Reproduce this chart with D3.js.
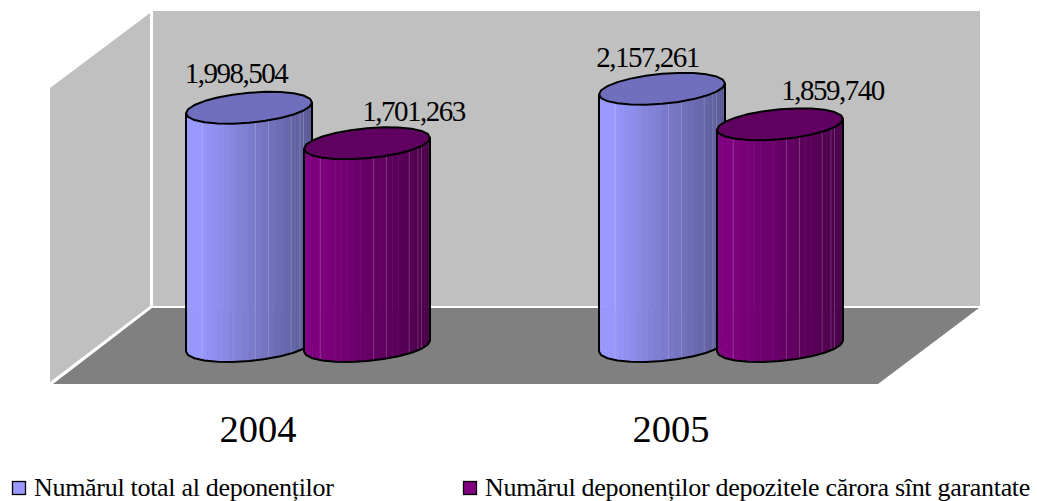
<!DOCTYPE html>
<html>
<head>
<meta charset="utf-8">
<script src="https://cdn.jsdelivr.net/npm/d3@7"></script>
<style>
    html, body { margin: 0; padding: 0; background: #fff; }
    svg { display: block; }
    text { font-family: "Liberation Serif", serif; fill: #000; }
</style>
</head>
<body>
<script>
const categories = ["2004", "2005"];
const seriesNames = ["Numărul total al deponenților", "Numărul deponenților depozitele cărora sînt garantate"];
const totalValues = [1998504, 2157261];
const guaranteedValues = [1701263, 1859740];

const width = 1037;
const height = 501;
const radiusX = 63;
const radiusY = 15;
const tilt = 5.5;
const frontFacets = 30;
// Strips after which a faint seam shows
const seams = [7, 16, 18, 22, 24, 25];

// Series colours: light and dark end of the shading, and the lid
const seriesStyle = [
    { light: "#9999ff", dark: "#5a5a96", top: "#6f6fbd" },
    { light: "#800080", dark: "#4a004a", top: "#600060" }
];

// Where each data label sits relative to the top of its cylinder
const labelOffset = [
    [{ dx: -13, dy: -25 }, { dx: 46.5, dy: -22 }],
    [{ dx: -14.5, dy: -22 }, { dx: 52.5, dy: -24 }]
];

var svg = d3.select("body")
    .append("svg")
    .attr("width", width)
    .attr("height", height);

// Scales
var x = d3.scalePoint().domain(categories).range([308, 721]);
var xSeries = d3.scalePoint().domain(d3.range(seriesNames.length)).range([-59, 59]);
var y = d3.scaleLinear().domain([0, 2500000]).range([346, 48]);

// Walls and floor
const wall = "#c0c0c0";
const floor = "#808080";
const poly = d3.line();
svg.append("path").attr("fill", wall).attr("d", poly([[153, 11], [980, 11], [980, 306], [153, 306]]) + "Z");
svg.append("path").attr("fill", wall).attr("d", poly([[150, 13], [50, 88], [50, 382], [150, 306]]) + "Z");
svg.append("path").attr("fill", floor).attr("d", poly([[152, 308], [979, 308], [878, 384], [53, 384]]) + "Z");

// A point on the rim of a cylinder
function rim(cx, cy, t)
{
    return [cx + radiusX * Math.cos(t), cy + radiusY * Math.sin(t) - tilt * Math.cos(t)];
}

function drawCylinder(cx, value, style)
{
    const topY = y(value);
    const baseY = y(0);
    var g = svg.append("g");

    // Shaded strips, from the left edge round to the right
    for (let i = 0; i < frontFacets; i++)
    {
        let t0 = Math.PI - Math.PI * i / frontFacets;
        let t1 = Math.PI - Math.PI * (i + 1) / frontFacets;
        let pos = (Math.cos((t0 + t1) / 2) + 1) / 2;
        let shade = pos < 0.1 ? 0 : (pos - 0.1) / 0.9;
        let color = d3.interpolateRgb(style.light, style.dark)(shade);
        g.append("path")
            .attr("fill", color)
            .attr("stroke", color)
            .attr("stroke-width", 0.5)
            .attr("d", poly([rim(cx, topY, t0), rim(cx, topY, t1), rim(cx, baseY, t1), rim(cx, baseY, t0)]) + "Z");
    }

    // Faint seams between some of the strips
    seams.forEach(i => {
        let t = Math.PI - Math.PI * i / frontFacets;
        let a = rim(cx, topY, t);
        let b = rim(cx, baseY, t);
        g.append("line")
            .attr("x1", a[0]).attr("y1", a[1])
            .attr("x2", b[0]).attr("y2", b[1])
            .attr("stroke", "#fff")
            .attr("stroke-opacity", 0.18)
            .attr("stroke-width", 1);
    });

    // Outline of the body, coarse like the original
    let outline = [rim(cx, topY, Math.PI)];
    for (let i = 0; i <= 12; i++)
    {
        outline.push(rim(cx, baseY, Math.PI - Math.PI * i / 12));
    }
    outline.push(rim(cx, topY, 0));
    g.append("path")
        .attr("fill", "none")
        .attr("stroke", "#000")
        .attr("stroke-width", 2)
        .attr("stroke-linejoin", "round")
        .attr("d", poly(outline));

    // Lid
    let lid = d3.range(0, 24).map(i => rim(cx, topY, 2 * Math.PI * i / 24));
    g.append("path")
        .attr("fill", style.top)
        .attr("stroke", "#000")
        .attr("stroke-width", 2)
        .attr("stroke-linejoin", "round")
        .attr("d", poly(lid) + "Z");
}

const seriesValues = [totalValues, guaranteedValues];

// Draw back to front so the second series overlaps the first
categories.forEach((cat, c) => {
    seriesValues.forEach((values, s) => {
        drawCylinder(x(cat) + xSeries(s), values[c], seriesStyle[s]);
    });
});

// Data labels
categories.forEach((cat, c) => {
    seriesValues.forEach((values, s) => {
        svg.append("text")
            .attr("x", x(cat) + xSeries(s) + labelOffset[c][s].dx)
            .attr("y", y(values[c]) + labelOffset[c][s].dy)
            .attr("text-anchor", "middle")
            .style("font-size", "29px")
            .style("letter-spacing", "-1.5px")
            .text(d3.format(",")(values[c]));
    });
});

// Category axis, shifted left because it runs along the front of the floor
var axis = svg.append("g")
    .attr("transform", "translate(-50.5,415)")
    .call(d3.axisBottom(x).tickSize(0).tickPadding(0));
axis.select(".domain").remove();
axis.selectAll("text")
    .attr("dy", null)
    .attr("y", 27)
    .style("font-family", "'Liberation Serif', serif")
    .style("font-size", "38.5px");

// Legend
const legendX = [12, 463];
seriesNames.forEach((name, s) => {
    svg.append("rect")
        .attr("x", legendX[s] + 0.5)
        .attr("y", 481.5)
        .attr("width", 13)
        .attr("height", 13)
        .attr("fill", seriesStyle[s].light)
        .attr("stroke", "#000")
        .attr("stroke-width", 1.3);
    svg.append("text")
        .attr("x", legendX[s] + 22)
        .attr("y", 496)
        .style("font-size", "26px")
        .style("letter-spacing", "-0.3px")
        .text(name);
});
</script>
</body>
</html>
